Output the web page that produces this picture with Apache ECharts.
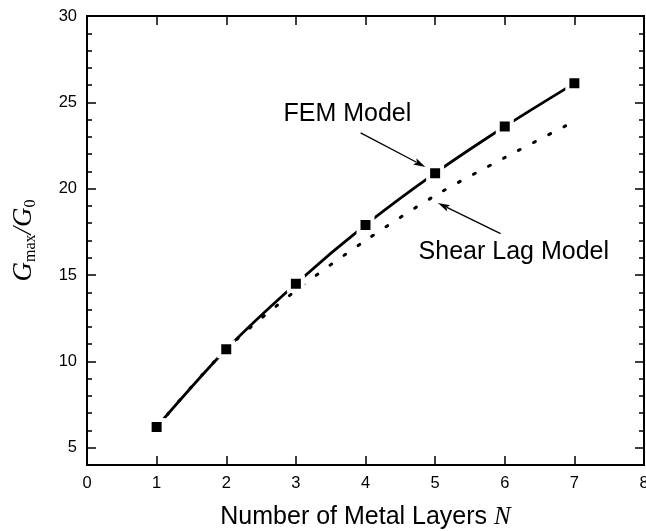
<!DOCTYPE html>
<html><head><meta charset="utf-8">
<script src="https://cdn.jsdelivr.net/npm/echarts@6/dist/echarts.min.js"></script>
<style>html,body{margin:0;padding:0;background:#fff}#c{width:646px;height:531px}</style>
</head><body><div id="c"></div>
<script>
// ---- data ----
const layers = [1, 2, 3, 4, 5, 6, 7];
const femValues = [6.2, 10.7, 14.5, 17.9, 20.9, 23.6, 26.1];
const shearLagValues = [6.2, 10.7, 14.1, 17.0, 19.6, 21.8, 23.9];
const xTickLabels = [0, 1, 2, 3, 4, 5, 6, 7, 8];
const yTickLabels = [5, 10, 15, 20, 25, 30];
const yMinorTicks = [5, 6, 7, 8, 9, 10, 11, 12, 13, 14, 15, 16, 17, 18, 19, 20, 21, 22, 23, 24, 25, 26, 27, 28, 29];
// annotation anchors in data coordinates
const femLabel = {text: 'FEM Model', at: [3.74, 24.3], from: [3.93, 23.23], to: [4.86, 21.26]};
const shearLabel = {text: 'Shear Lag Model', at: [6.13, 16.32], from: [5.94, 17.40], to: [5.04, 19.17]};

const SANS = 'Liberation Sans, Arial, sans-serif';
const SERIF = 'Liberation Serif, Times New Roman, serif';

const chart = echarts.init(document.getElementById('c'), null, {renderer: 'canvas'});

const lineStyleAxis = {color: '#000', width: 2};
const tickStyle = {color: '#000', width: 1.5};
const gridRect = {left: 87, right: 2, top: 16, bottom: 66, containLabel: false, outerBoundsMode: 'none'};

function xAxisDef(gridIndex, pos, withLabels, show) {
  return {
    gridIndex, show, type: 'value', min: 0, max: 8, interval: 1, position: pos,
    axisLine: {show: true, onZero: false, lineStyle: lineStyleAxis},
    axisTick: {show: true, inside: true, length: 9, lineStyle: tickStyle},
    axisLabel: {
      show: withLabels, color: '#000', fontSize: 16.5, fontFamily: SANS, margin: 10,
      formatter: v => xTickLabels.includes(v) ? String(v) : ''
    },
    splitLine: {show: false}
  };
}
// minor-tick y axes (grid 0)
function yMinorDef(pos) {
  return {
    gridIndex: 0, type: 'value', min: 4, max: 30, interval: 1, position: pos,
    axisLine: {show: true, onZero: false, lineStyle: lineStyleAxis},
    axisTick: {show: true, inside: true, length: 5, lineStyle: tickStyle, customValues: yMinorTicks},
    axisLabel: {show: false},
    splitLine: {show: false}
  };
}
// major-tick y axes (grid 1)
function yMajorDef(pos, withLabels) {
  return {
    gridIndex: 1, type: 'value', min: 4, max: 30, interval: 1, position: pos,
    axisLine: {show: true, onZero: false, lineStyle: lineStyleAxis},
    axisTick: {show: true, inside: true, length: 9, lineStyle: tickStyle, customValues: yTickLabels},
    axisLabel: {
      show: withLabels, color: '#000', fontSize: 16.5, fontFamily: SANS, margin: 10,
      customValues: yTickLabels, formatter: v => String(v)
    },
    splitLine: {show: false}
  };
}

const xBottom = xAxisDef(1, 'bottom', true, true);
Object.assign(xBottom, {
  name: '{a|Number of Metal Layers }{n|N}', nameLocation: 'middle', nameGap: 40,
  nameTextStyle: {rich: {
    a: {fontSize: 25, fontFamily: SANS, color: '#000', lineHeight: 25},
    n: {fontSize: 25, fontFamily: SERIF, fontStyle: 'italic', color: '#000', lineHeight: 25}
  }}
});
const yLeft = yMajorDef('left', true);
Object.assign(yLeft, {
  name: '{g|G}{s|max}{g|/G}{s|0}', nameLocation: 'middle', nameGap: 48, nameRotate: 90,
  nameTextStyle: {rich: {
    g: {fontSize: 27, fontFamily: SERIF, fontStyle: 'italic', color: '#000', lineHeight: 31},
    s: {fontSize: 16, fontFamily: SERIF, color: '#000', lineHeight: 16, padding: [15, 0, 0, 0]}
  }}
});

const option = {
  animation: false,
  backgroundColor: '#fff',
  grid: [Object.assign({}, gridRect), Object.assign({}, gridRect)],
  xAxis: [xAxisDef(0, 'bottom', false, false), xBottom, xAxisDef(1, 'top', false, true)],
  yAxis: [yMinorDef('left'), yMinorDef('right'), yLeft, yMajorDef('right', false)],
  series: [
    {
      name: 'Shear Lag Model', type: 'line', xAxisIndex: 1, yAxisIndex: 2,
      data: layers.map((x, i) => [x, shearLagValues[i]]),
      smooth: 0.3, showSymbol: false, symbol: 'none', z: 2,
      lineStyle: {color: '#000', width: 3, type: [2, 15], cap: 'round'}
    },
    {
      name: 'FEM Model', type: 'line', xAxisIndex: 1, yAxisIndex: 2,
      data: layers.map((x, i) => [x, femValues[i]]),
      smooth: 0.3, symbol: 'rect', symbolSize: 14, z: 3,
      lineStyle: {color: '#000', width: 2.8},
      itemStyle: {color: '#000', borderColor: '#fff', borderWidth: 4}
    }
  ]
};
chart.setOption(option);

const cs = {xAxisIndex: 1, yAxisIndex: 2};
function arrow(from, to) {
  const p0 = chart.convertToPixel(cs, from);
  const p1 = chart.convertToPixel(cs, to);
  const dx = p1[0] - p0[0], dy = p1[1] - p0[1];
  const len = Math.hypot(dx, dy), ux = dx / len, uy = dy / len;
  const L = 12, W = 3.5;
  const bx = p1[0] - ux * L, by = p1[1] - uy * L;
  return [
    {type: 'line', shape: {x1: p0[0], y1: p0[1], x2: bx + ux * 2, y2: by + uy * 2},
     style: {stroke: '#000', lineWidth: 1.3}, z: 10},
    {type: 'polygon', shape: {points: [[p1[0], p1[1]], [bx - uy * W, by + ux * W], [bx + ux * 2.5, by + uy * 2.5], [bx + uy * W, by - ux * W]]},
     style: {fill: '#000'}, z: 10}
  ];
}
function label(obj) {
  const p = chart.convertToPixel(cs, obj.at);
  return {type: 'text', x: p[0], y: p[1], z: 10,
    style: {text: obj.text, fill: '#000', font: '25px ' + SANS, textAlign: 'center', textVerticalAlign: 'middle'}};
}
chart.setOption({graphic: [label(femLabel), label(shearLabel), ...arrow(femLabel.from, femLabel.to), ...arrow(shearLabel.from, shearLabel.to)]});
</script>
</body></html>
